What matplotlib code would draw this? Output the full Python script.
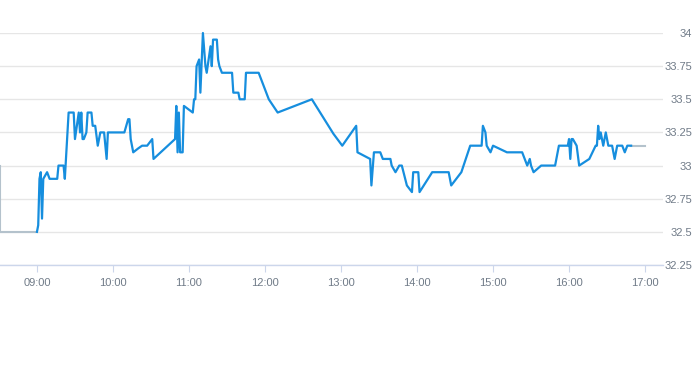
import pandas as pd
import matplotlib as mpl
import matplotlib.pyplot as plt
import matplotlib.dates as mdates

day = '2024-01-02 '

times = [
    '09:00', '09:01', '09:02', '09:03', '09:04', '09:05', '09:08', '09:10', '09:16', '09:17',
    '09:21', '09:22', '09:25', '09:29', '09:30', '09:33', '09:34', '09:35', '09:36', '09:37',
    '09:39', '09:40', '09:43', '09:44', '09:46', '09:48', '09:50', '09:53', '09:55', '09:56',
    '10:09', '10:12', '10:13', '10:14', '10:16', '10:20', '10:23', '10:27', '10:31', '10:32',
    '10:49', '10:50', '10:51', '10:52', '10:53', '10:55', '10:56', '11:03', '11:04', '11:05',
    '11:06', '11:08', '11:09', '11:11', '11:13', '11:14', '11:17', '11:18', '11:19', '11:22',
    '11:23', '11:24', '11:26', '11:34', '11:35', '11:39', '11:40', '11:44', '11:45', '11:55',
    '12:03', '12:10', '12:37', '12:54', '13:01', '13:12', '13:13', '13:23', '13:24', '13:26',
    '13:31', '13:33', '13:39', '13:40', '13:43', '13:46', '13:48', '13:52', '13:56', '13:57',
    '14:01', '14:02', '14:12', '14:25', '14:27', '14:35', '14:42', '14:51', '14:52', '14:54',
    '14:55', '14:58', '15:00', '15:11', '15:23', '15:27', '15:29', '15:30', '15:32', '15:38',
    '15:49', '15:52', '15:59', '16:00', '16:01', '16:02', '16:03', '16:06', '16:08', '16:16',
    '16:21', '16:22', '16:23', '16:24', '16:25', '16:26', '16:27', '16:29', '16:31', '16:34',
    '16:36', '16:38', '16:42', '16:44', '16:46', '16:49',
]
prices = [
    32.50, 32.55, 32.90, 32.95, 32.60, 32.90, 32.95, 32.90, 32.90, 33.00,
    33.00, 32.90, 33.40, 33.40, 33.20, 33.40, 33.25, 33.40, 33.20, 33.20,
    33.25, 33.40, 33.40, 33.30, 33.30, 33.15, 33.25, 33.25, 33.05, 33.25,
    33.25, 33.35, 33.35, 33.20, 33.10, 33.13, 33.15, 33.15, 33.20, 33.05,
    33.20, 33.45, 33.10, 33.40, 33.10, 33.10, 33.45, 33.40, 33.50, 33.50,
    33.75, 33.80, 33.55, 34.00, 33.75, 33.70, 33.90, 33.75, 33.95, 33.95,
    33.80, 33.75, 33.70, 33.70, 33.55, 33.55, 33.50, 33.50, 33.70, 33.70,
    33.50, 33.40, 33.50, 33.24, 33.15, 33.30, 33.10, 33.05, 32.85, 33.10,
    33.10, 33.05, 33.05, 33.00, 32.95, 33.00, 33.00, 32.85, 32.80, 32.95,
    32.95, 32.80, 32.95, 32.95, 32.85, 32.95, 33.15, 33.15, 33.30, 33.25,
    33.15, 33.10, 33.15, 33.10, 33.10, 33.00, 33.05, 33.00, 32.95, 33.00,
    33.00, 33.15, 33.15, 33.20, 33.05, 33.20, 33.20, 33.15, 33.00, 33.05,
    33.15, 33.15, 33.30, 33.20, 33.25, 33.20, 33.15, 33.25, 33.15, 33.15,
    33.05, 33.15, 33.15, 33.10, 33.15, 33.15,
]

# grey lead-in before the open and flat extension to the close
pre_times = ['08:31', '08:31', '09:00']
pre_prices = [33.00, 32.50, 32.50]
post_times = ['16:49', '17:00']
post_prices = [33.15, 33.15]

hour_ticks = ['09:00', '10:00', '11:00', '12:00', '13:00', '14:00', '15:00', '16:00', '17:00']
y_ticks = [32.25, 32.5, 32.75, 33, 33.25, 33.5, 33.75, 34]
y_labels = ['32.25', '32.5', '32.75', '33', '33.25', '33.5', '33.75', '34']


def to_dt(lst):
    return pd.to_datetime([day + t for t in lst])


mpl.rc('font', family='Liberation Sans', size=8)

fig = plt.figure(figsize=(6.93, 3.65), dpi=100)
ax = fig.add_axes([0, 100 / 365, 663 / 693, 232 / 365])

ax.plot(to_dt(pre_times), pre_prices, '-', color='#b4c2cc', lw=1.5, clip_on=False)
ax.plot(to_dt(post_times), post_prices, '-', color='#b4c2cc', lw=1.5)
ax.plot(to_dt(times), prices, '-', color='#168ede', lw=1.6, clip_on=False, zorder=3)

ax.set_xlim(pd.Timestamp(day + '08:30:50'), pd.Timestamp(day + '17:14:10'))
ax.set_ylim(32.25, 34)

ax.set_xticks(to_dt(hour_ticks))
ax.xaxis.set_major_formatter(mdates.DateFormatter('%H:%M'))
ax.set_yticks(y_ticks)
ax.set_yticklabels(y_labels)
ax.yaxis.tick_right()

for s in ['top', 'left', 'right']:
    ax.spines[s].set_visible(False)
ax.spines['bottom'].set_color('#ccd6eb')
ax.spines['bottom'].set_linewidth(1)

ax.grid(axis='y', color='#e6e6e6', lw=1)
ax.set_axisbelow(True)
ax.tick_params(axis='x', colors='#ccd6eb', labelcolor='#707b88', length=5, pad=4)
ax.tick_params(axis='y', length=0, labelcolor='#707b88', pad=21)
for lab in ax.get_yticklabels():
    lab.set_horizontalalignment('right')

plt.savefig('out.png', dpi=100)
plt.close()
